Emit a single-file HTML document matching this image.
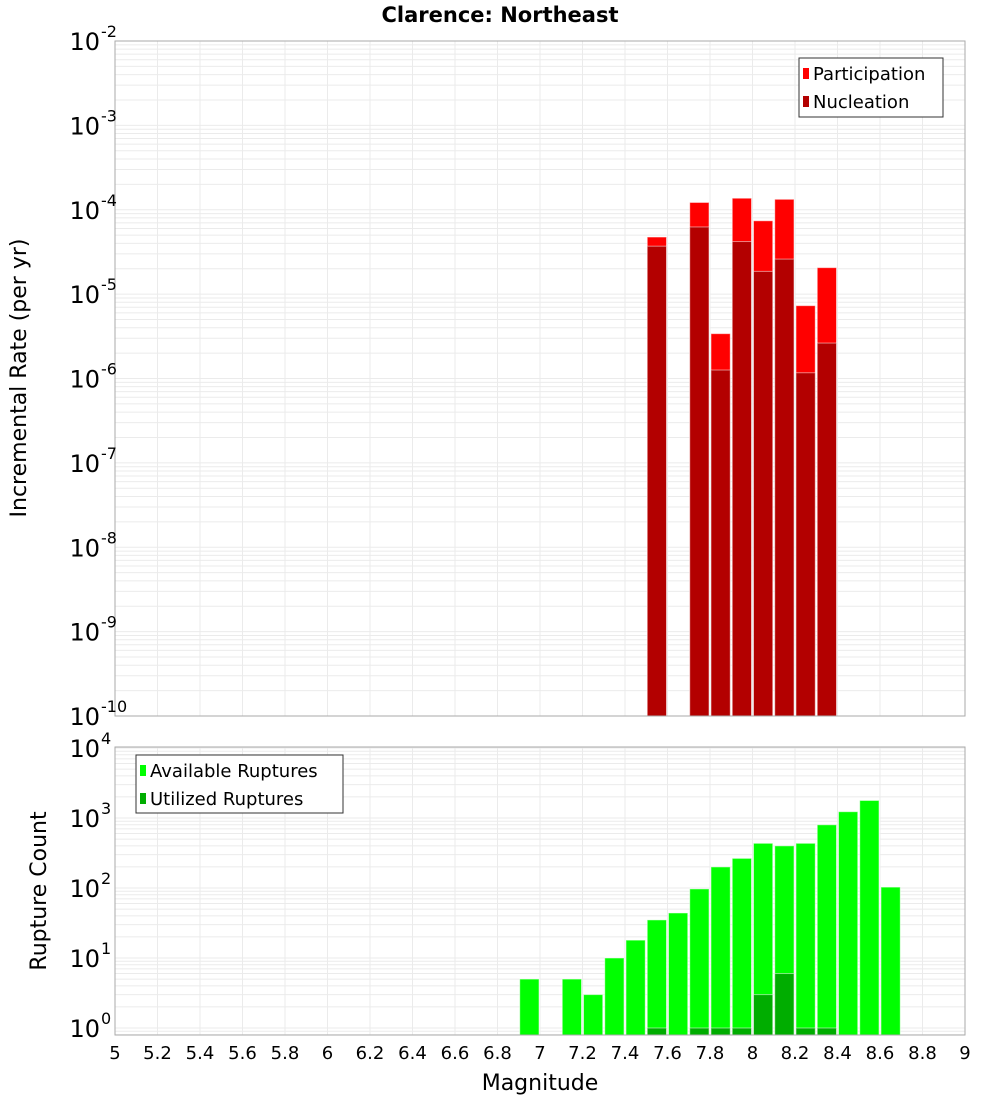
<!DOCTYPE html>
<html><head><meta charset="utf-8"><style>
body{margin:0;background:#fff;}
svg{display:block;font-family:"DejaVu Sans","Liberation Sans",sans-serif;}
</style></head><body>
<svg id="c" width="1000" height="1100" xmlns="http://www.w3.org/2000/svg">
<text x="500" y="22" text-anchor="middle" font-size="21" font-weight="bold">Clarence: Northeast</text>
<text transform="translate(26,378) rotate(-90)" text-anchor="middle" font-size="22">Incremental Rate (per yr)</text>
<text transform="translate(46,891) rotate(-90)" text-anchor="middle" font-size="22">Rupture Count</text>
<text x="540" y="1090" text-anchor="middle" font-size="22">Magnitude</text>
<g id="g"></g>
</svg>
<script>
const rateBins=[7.55,7.75,7.85,7.95,8.05,8.15,8.25,8.35];
const participation=[4.75e-5,1.22e-4,3.4e-6,1.37e-4,7.4e-5,1.33e-4,7.3e-6,2.06e-5];
const nucleation=[3.7e-5,6.25e-5,1.26e-6,4.2e-5,1.86e-5,2.6e-5,1.17e-6,2.63e-6];
const countBins=[6.95,7.15,7.25,7.35,7.45,7.55,7.65,7.75,7.85,7.95,8.05,8.15,8.25,8.35,8.45,8.55,8.65];
const available=[5,5,3,10,18,35,44,97,200,265,435,400,435,800,1230,1780,103];
const utilized=[0,0,0,0,0,1,0,1,1,1,3,6,1,1,0,0,0];
const xTicks=["5","5.2","5.4","5.6","5.8","6","6.2","6.4","6.6","6.8","7","7.2","7.4","7.6","7.8","8","8.2","8.4","8.6","8.8","9"];
const topExps=[-2,-3,-4,-5,-6,-7,-8,-9,-10];
const botExps=[4,3,2,1,0];

const NS="http://www.w3.org/2000/svg";
const g=document.getElementById('g');
function mk(t,a,p){const e=document.createElementNS(NS,t);for(const k in a)e.setAttribute(k,a[k]);(p||g).appendChild(e);return e;}
const X0=115,X1=965;
const x=m=>X0+(m-5)/4*(X1-X0);
const T0=41,T1=716;
const yTop=v=>T0+(-2-Math.log10(v))*(T1-T0)/8;
const yBot=v=>1028-Math.log10(v)*70;
const B0=747,B1=1035;

function grid(y0,y1,yf,lo,hi){
  for(let e=lo;e<=hi;e++){for(let k=1;k<10;k++){const yy=yf(k*Math.pow(10,e));if(yy<y0||yy>y1)continue;
    const l=mk('line',{x1:X0,x2:X1,y1:yy,y2:yy,stroke:'#ebebeb','stroke-width':1});
    }}
  xTicks.forEach(t=>{const xx=x(+t);const l=mk('line',{x1:xx,x2:xx,y1:y0,y2:y1,stroke:'#ebebeb','stroke-width':1});
    });
}
grid(T0,T1,yTop,-11,-2);
grid(B0,B1,yBot,-1,4);

function bar(m,v,yf,base,fill,name){
  const xa=x(m-0.05)+1,xb=x(m+0.05)-1,yy=yf(v);
  const r=mk('rect',{x:xa,y:yy,width:xb-xa,height:base-yy,fill:fill,stroke:'rgba(255,255,255,0.5)','stroke-width':1});
  
}
rateBins.forEach((m,i)=>bar(m,participation[i],yTop,T1,'#ff0000','participation-bar'));
rateBins.forEach((m,i)=>bar(m,nucleation[i],yTop,T1,'#b30000','nucleation-bar'));
countBins.forEach((m,i)=>{if(available[i]>0)bar(m,available[i],yBot,B1,'#00ff00','available-bar');});
countBins.forEach((m,i)=>{if(utilized[i]>0)bar(m,utilized[i],yBot,B1,'#00ad00','utilized-bar');});

[[T0,T1],[B0,B1]].forEach(([a,b])=>{const f=mk('rect',{x:X0,y:a,width:X1-X0,height:b-a,fill:'none',stroke:'#aaa','stroke-width':1});
  });

function ylab(e,yy){
  const t=mk('text',{x:100,y:yy+9,'text-anchor':'end','font-size':24});t.textContent='10';
  
  const s=mk('text',{x:101,y:yy-4,'font-size':16});s.textContent=String(e).replace('-','-');
  
}
topExps.forEach(e=>ylab(e,yTop(Math.pow(10,e))));
botExps.forEach(e=>ylab(e,yBot(Math.pow(10,e))));
xTicks.forEach(t=>{const l=mk('text',{x:x(+t),y:1059,'text-anchor':'middle','font-size':18});l.textContent=t;
  });

function legend(bx,by,w,h,items){
  const r=mk('rect',{x:bx,y:by,width:w,height:h,fill:'#fff',stroke:'#333','stroke-width':1});
  
  items.forEach((it,i)=>{const cy=by+15+i*28;
    const s=mk('rect',{x:bx+4,y:cy-5,width:6,height:11,fill:it[1]});
    
    const t=mk('text',{x:bx+14,y:cy+7,'font-size':18});t.textContent=it[0];
    });
}
legend(799,58,144,59,[['Participation','#ff0000'],['Nucleation','#b30000']]);
legend(136,755,207,58,[['Available Ruptures','#00ff00'],['Utilized Ruptures','#00ad00']]);
</script>
</body></html>
